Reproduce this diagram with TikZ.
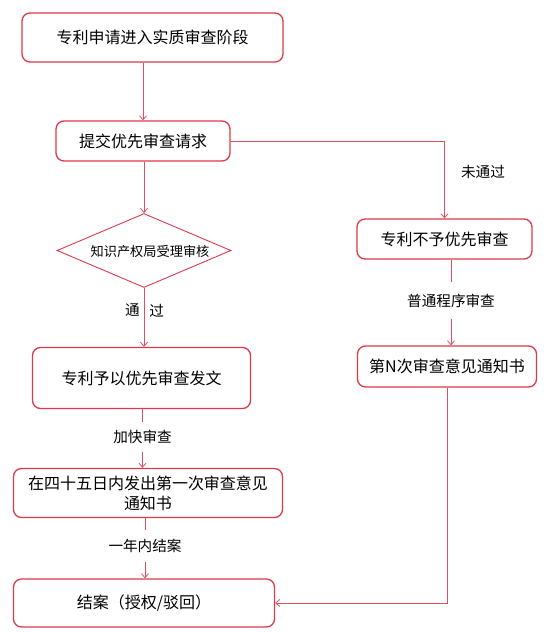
\documentclass[tikz,border=0pt]{standalone}
\usepackage{fontspec}
\setmainfont{Noto Sans CJK SC}
\usetikzlibrary{shapes.geometric, arrows.meta}
\definecolor{boxred}{HTML}{DA3A4A}
\definecolor{linered}{HTML}{DE5060}
\tikzset{
  stepbox/.style={draw=boxred, line width=1.3pt, rounded corners=8pt, align=center,
    inner sep=0pt, font=\fontsize{16}{20}\selectfont},
  checkbox/.style={diamond, draw=boxred, line width=0.9pt, aspect=2.3, inner sep=0pt},
  checktext/.style={font=\fontsize{13.2}{15}\selectfont, inner sep=0pt},
  flowlabel/.style={font=\fontsize{14.6}{17}\selectfont, inner xsep=2pt, inner ysep=8pt},
  flowline/.style={draw=linered, line width=0.8pt},
}
\begin{document}
\begin{tikzpicture}[x=1pt, y=-1pt, >={Straight Barb[length=4pt, width=7pt]}]
  \useasboundingbox (0,0) rectangle (554,632);

  % left column
  \node[stepbox, minimum width=261pt, minimum height=49pt] (apply) at (152.5,37.5) {专利申请进入实质审查阶段};
  \node[stepbox, minimum width=174pt, minimum height=40pt] (request) at (143,141) {提交优先审查请求};
  \node[checkbox, minimum width=174pt, minimum height=74pt] (review) at (144,250.5) {};
  \node[checktext] (reviewtext) at ([xshift=6pt,yshift=-1pt]review.center) {知识产权局受理审核};
  \node[stepbox, minimum width=218pt, minimum height=61pt] (grant) at (141.5,378) {专利予以优先审查发文};
  \node[stepbox, minimum width=269pt, minimum height=49pt] (notice) at (148,493) {在四十五日内发出第一次审查意见\\通知书};
  \node[stepbox, minimum width=261pt, minimum height=48pt] (close) at (144,603) {结案（授权/驳回）};

  % right column
  \node[stepbox, minimum width=175pt, minimum height=40pt] (reject) at (444.5,239) {专利不予优先审查};
  \node[stepbox, minimum width=179pt, minimum height=41pt] (nth) at (447,366.5) {第N次审查意见通知书};

  % labels
  \node[flowlabel] (fail) at (483,172.3) {未通过};
  \node[flowlabel, inner ysep=12pt] (normal) at (451,300.5) {普通程序审查};
  \node[flowlabel] (speed) at (142.5,437) {加快审查};
  \node[flowlabel, inner ysep=9pt] (year) at (145,546) {一年内结案};

  \draw[flowline, ->] (apply.south -| request.north) -- (request.north);
  \draw[flowline, ->] (request.south -| review.north) -- (review.north);
  \draw[flowline, ->] (review.south) --
    node[flowlabel, pos=0.38, left=4pt, inner sep=0pt] (passl) {通}
    node[flowlabel, pos=0.38, right=5pt, inner sep=0pt] (passr) {过} (grant.north -| review.south);
  \draw[flowline] (grant.south -| speed) -- (speed.north);
  \draw[flowline, ->] (speed.south) -- (speed.south |- notice.north);
  \draw[flowline] (notice.south -| year) -- (year.north);
  \draw[flowline, ->] (year.south) -- (year.south |- close.north);

  \draw[flowline, ->] (request.east) -| (reject.north);
  \draw[flowline] (reject.south -| normal) -- (normal.north);
  \draw[flowline, ->] (normal.south) -- (normal.south |- nth.north);
  \draw[flowline, ->] (nth.south) |- (close.east);
\end{tikzpicture}
\end{document}
